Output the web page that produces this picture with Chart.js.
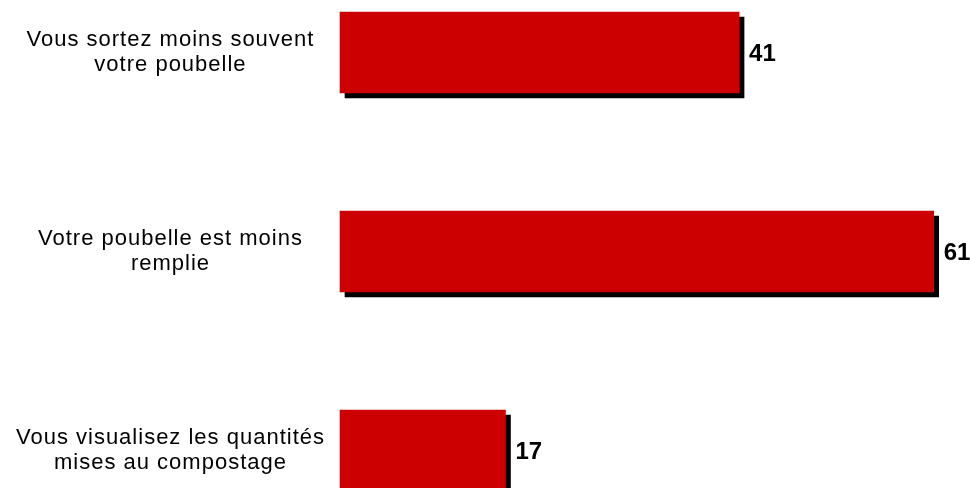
<!DOCTYPE html>
<html>
<head>
<meta charset="utf-8">
<script src="https://cdn.jsdelivr.net/npm/chart.js"></script>
<style>
  html, body { margin: 0; padding: 0; background: #fff; }
  #wrap { width: 970px; height: 488px; }
</style>
</head>
<body>
<div id="wrap"><canvas id="barChart"></canvas></div>
<script>
const labels = [
  ["Vous sortez moins souvent", "votre poubelle"],
  ["Votre poubelle est moins", "remplie"],
  ["Vous visualisez les quantités", "mises au compostage"],
];
const values = [41, 61, 17];
const barColor = "#CC0000";
const fontFamily = "'Liberation Sans', Arial, sans-serif";

// the reference text is a bit wider than Arial, widen it a little
const spacing = {
  id: "spacing",
  beforeUpdate(chart) { chart.ctx.letterSpacing = "1px"; },
  beforeDraw(chart) { chart.ctx.letterSpacing = "1px"; },
};

// hard black drop shadow under the bars
const barShadow = {
  id: "barShadow",
  beforeDatasetsDraw(chart) {
    const ctx = chart.ctx;
    ctx.save();
    ctx.shadowColor = "#000";
    ctx.shadowBlur = 0;
    ctx.shadowOffsetX = 5;
    ctx.shadowOffsetY = 5;
  },
  afterDatasetsDraw(chart) {
    chart.ctx.restore();
  },
};

// bold value at the end of each bar
const valueLabels = {
  id: "valueLabels",
  afterDatasetsDraw(chart) {
    const ctx = chart.ctx;
    const meta = chart.getDatasetMeta(0);
    ctx.save();
    ctx.letterSpacing = "0px";
    ctx.font = "bold 24px " + fontFamily;
    ctx.fillStyle = "#000";
    ctx.textAlign = "left";
    ctx.textBaseline = "middle";
    meta.data.forEach((bar, i) => {
      ctx.fillText(values[i], bar.x + 10, bar.y + 2);
    });
    ctx.restore();
  },
};

new Chart(document.getElementById("barChart"), {
  type: "bar",
  data: {
    labels: labels,
    datasets: [{
      data: values,
      backgroundColor: barColor,
      borderWidth: 0,
      barThickness: 81,
      clip: false,
    }],
  },
  options: {
    indexAxis: "y",
    responsive: true,
    maintainAspectRatio: false,
    animation: false,
    layout: { padding: { top: 52.5, bottom: 37.5, left: 0, right: 11 } },
    scales: {
      x: { display: false, min: 0, max: 63.6 },
      y: {
        offset: false,
        grid: { display: false },
        border: { display: false },
        ticks: {
          crossAlign: "center",
          padding: 7,
          color: "#000",
          font: { family: fontFamily, size: 22, lineHeight: 1.1 },
        },
        afterFit(scale) { scale.width = 340; },
      },
    },
    plugins: {
      legend: { display: false },
      tooltip: { enabled: false },
    },
  },
  plugins: [spacing, barShadow, valueLabels],
});
</script>
</body>
</html>
